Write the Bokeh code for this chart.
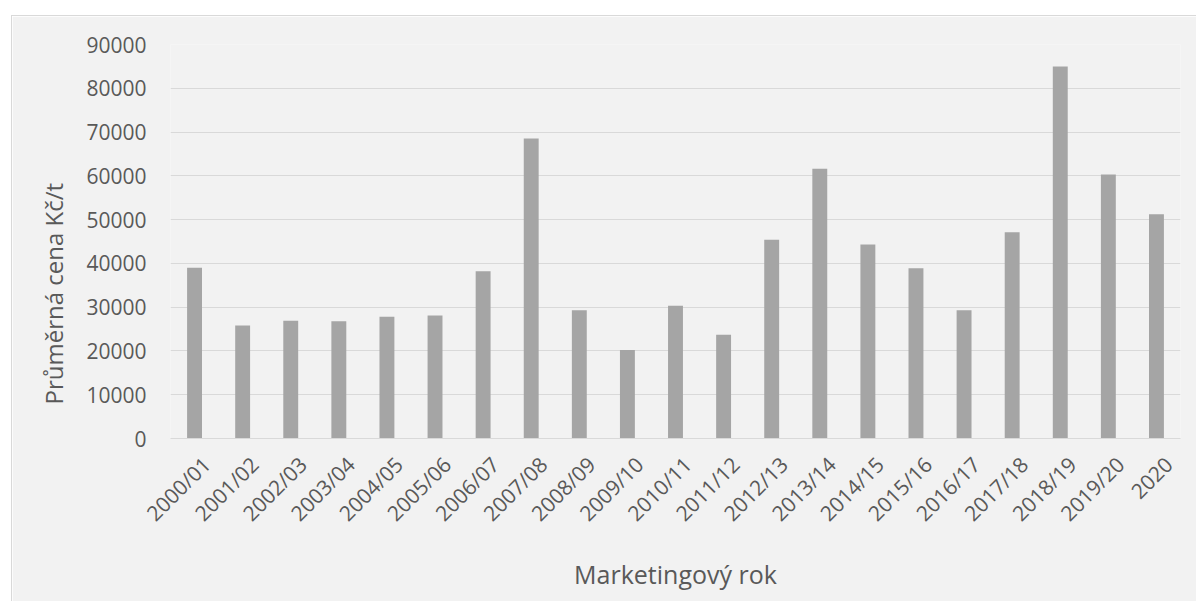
import math

from bokeh.embed import file_html
from bokeh.models import ColumnDataSource, FixedTicker, Range1d, SingleIntervalTicker, Title
from bokeh.plotting import figure
from bokeh.resources import INLINE

# Average price per marketing year (CZK per tonne)
years = [
    "2000/01", "2001/02", "2002/03", "2003/04", "2004/05", "2005/06", "2006/07",
    "2007/08", "2008/09", "2009/10", "2010/11", "2011/12", "2012/13", "2013/14",
    "2014/15", "2015/16", "2016/17", "2017/18", "2018/19", "2019/20", "2020",
]
prices = [
    39000, 25800, 26900, 26800, 27800, 28100, 38200,
    68500, 29300, 20200, 30300, 23700, 45400, 61600,
    44300, 38900, 29300, 47100, 85000, 60300, 51200,
]

y_title = "Průměrná cena Kč/t"
x_title = "Marketingový rok"

FONT = "Open Sans"
TEXT = "#595959"
GRID = "#d9d9d9"
PANEL = "#f2f2f2"
BAR = "#a5a5a5"

# One unit slot per marketing year; bars sit at the slot centres
n = len(years)
slot_centre = [i + 0.5 for i in range(n)]
# slanted labels end a quarter slot right of the bar centre
label_pos = [i + 0.75 for i in range(n)]

source = ColumnDataSource(data=dict(x=slot_centre, year=years, price=prices))

p = figure(
    x_range=Range1d(0, n),
    y_range=Range1d(0, 90000),
    width=1185,
    height=586,
    margin=(15, 0, 0, 11),
    output_backend="svg",
    toolbar_location=None,
    min_border_left=158,
    min_border_right=17,
    min_border_top=28,
    min_border_bottom=164,
)
p.styles = {"border-left": f"1px solid {GRID}", "border-top": f"1px solid {GRID}"}

p.vbar(x="x", top="price", width=0.31, source=source, fill_color=BAR, line_color=None)

p.background_fill_color = PANEL
p.border_fill_color = PANEL
p.outline_line_color = None

# Horizontal gridlines only
p.xgrid.grid_line_color = None
p.ygrid.grid_line_color = GRID
p.ygrid.grid_line_width = 1
p.yaxis.ticker = SingleIntervalTicker(interval=10000)

# Y axis
p.yaxis.axis_line_color = None
p.yaxis.major_tick_line_color = None
p.yaxis.minor_tick_line_color = None
p.yaxis.major_label_standoff = 18
p.yaxis.major_label_text_font = FONT
p.yaxis.major_label_text_font_size = "21px"
p.yaxis.major_label_text_color = TEXT

# X axis with the marketing years as slanted labels
xaxis = p.xaxis[0]
xaxis.ticker = FixedTicker(ticks=label_pos)
xaxis.major_label_overrides = {pos: yr for pos, yr in zip(label_pos, years)}
xaxis.axis_line_color = GRID
xaxis.major_tick_line_color = None
xaxis.minor_tick_line_color = None
xaxis.major_tick_out = 0
xaxis.major_tick_in = 0
xaxis.major_label_orientation = math.pi / 4
xaxis.major_label_standoff = 22
xaxis.major_label_text_font = FONT
xaxis.major_label_text_font_size = "21px"
xaxis.major_label_text_color = TEXT
xaxis.axis_label = x_title
xaxis.axis_label_standoff = 17
xaxis.axis_label_text_font = FONT
xaxis.axis_label_text_font_size = "25px"
xaxis.axis_label_text_font_style = "normal"
xaxis.axis_label_text_color = TEXT

# Vertical axis title
p.add_layout(Title(
    text=y_title, align="left", offset=34, standoff=28,
    text_font=FONT, text_font_size="24px", text_font_style="normal",
    text_color=TEXT,
), "left")

open("out.html", "w").write(file_html(p, INLINE))
